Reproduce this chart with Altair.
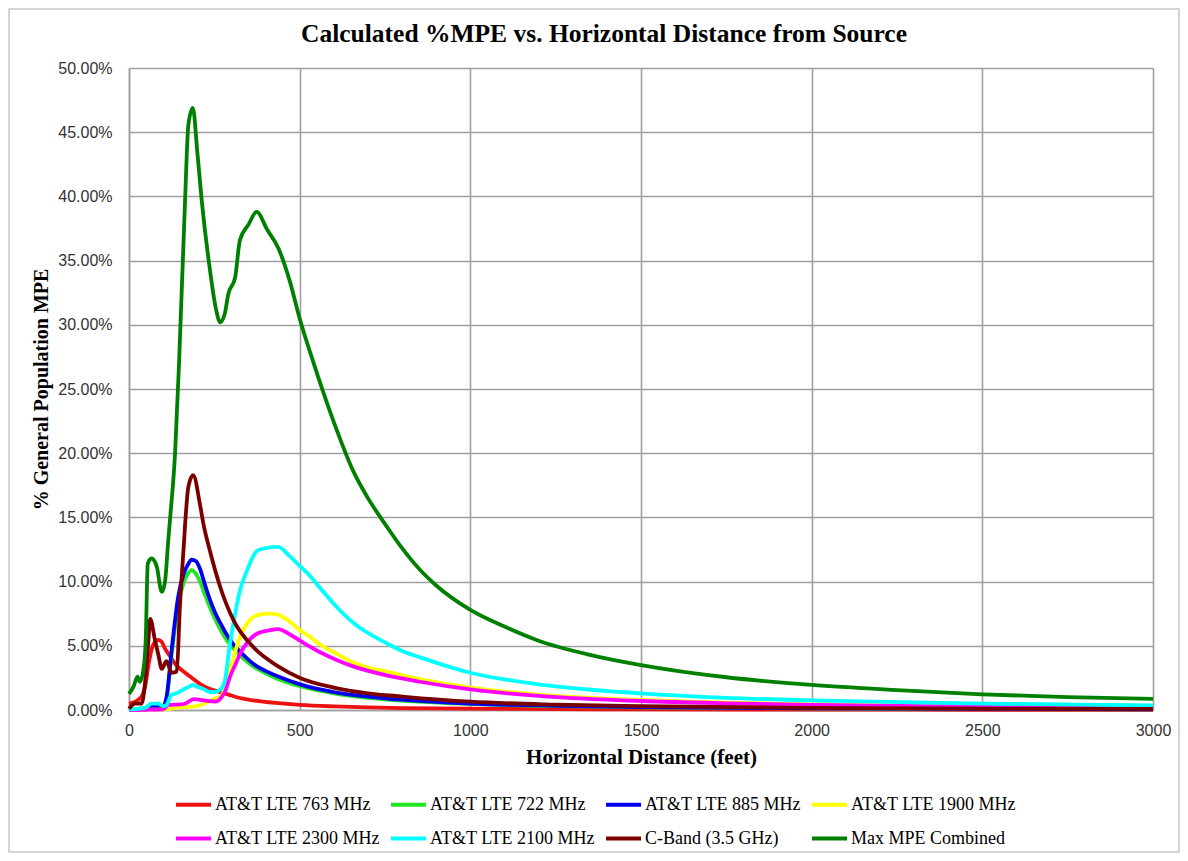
import altair as alt
import pandas as pd

# ---- data (x in feet, y in % of MPE) ----
series_names = [
    "AT&T LTE 763 MHz", "AT&T LTE 722 MHz", "AT&T LTE 885 MHz", "AT&T LTE 1900 MHz",
    "AT&T LTE 2300 MHz", "AT&T LTE 2100 MHz", "C-Band (3.5 GHz)", "Max MPE Combined",
]
series_colors = ["#ee1111", "#22e622", "#0000ee", "#ffff00",
                 "#ff00ff", "#00ffff", "#7a0000", "#008000"]

x_763 = [0, 15, 27, 40, 47, 57, 66, 76, 86, 96, 105, 120, 135, 160, 184, 210, 232, 260, 291, 330,
         364, 430, 501, 600, 700, 800, 1000, 1250, 1500, 2000, 2500, 3000]
y_763 = [0.5, 0.6, 0.8, 1.2, 1.8, 3.5, 4.7, 5.3, 5.45, 5.3, 4.8, 4.2, 3.6, 3.0, 2.5, 2.0, 1.7, 1.45,
         1.2, 0.9, 0.75, 0.55, 0.4, 0.28, 0.2, 0.15, 0.1, 0.07, 0.05, 0.03, 0.02, 0.01]

x_722 = [0, 30, 50, 66, 80, 100, 110, 125, 144, 160, 172, 184, 196, 208, 222, 237, 252, 267, 290,
         306, 335, 364, 400, 437, 501, 600, 700, 800, 1000, 1250, 1500, 2000, 2500, 3000]
y_722 = [0, 0.1, 0.2, 0.5, 0.3, 0.3, 0.9, 4.3, 8.2, 9.9, 10.6, 10.9, 10.6, 10.0, 9.0, 8.0, 7.1, 6.3,
         5.3, 4.8, 4.0, 3.4, 2.85, 2.4, 1.85, 1.3, 0.95, 0.73, 0.47, 0.3, 0.21, 0.12, 0.08, 0.05]

x_885 = [0, 30, 50, 66, 80, 100, 110, 125, 144, 160, 172, 184, 196, 208, 222, 237, 252, 267, 290,
         306, 335, 364, 400, 437, 501, 600, 700, 800, 1000, 1250, 1500, 2000, 2500, 3000]
y_885 = [0, 0.05, 0.1, 0.3, 0.3, 0.3, 1.0, 4.7, 8.8, 10.6, 11.3, 11.7, 11.6, 11.0, 9.8, 8.6, 7.6,
         6.8, 5.7, 5.1, 4.3, 3.6, 3.05, 2.6, 2.0, 1.4, 1.05, 0.8, 0.5, 0.33, 0.23, 0.13, 0.09, 0.06]

x_1900 = [0, 50, 100, 150, 198, 230, 252, 267, 280, 290, 303, 315, 330, 354, 384, 410, 433, 470,
          501, 530, 560, 600, 657, 700, 755, 800, 853, 1000, 1200, 1500, 1750, 2000, 2500, 3000]
y_1900 = [0, 0.02, 0.05, 0.2, 0.3, 0.6, 0.9, 1.0, 1.6, 2.5, 3.7, 4.9, 6.0, 7.0, 7.45, 7.5, 7.45,
          6.9, 6.2, 5.7, 5.1, 4.5, 3.7, 3.3, 3.0, 2.7, 2.4, 1.75, 1.2, 0.78, 0.58, 0.44, 0.28, 0.2]

x_2300 = [0, 50, 100, 115, 160, 190, 220, 255, 268, 281, 296, 311, 328, 345, 379, 410, 437, 470,
          501, 560, 600, 657, 755, 853, 1000, 1200, 1500, 1750, 2000, 2500, 3000]
y_2300 = [0, 0.02, 0.05, 0.4, 0.45, 0.85, 0.75, 0.65, 0.9, 1.4, 2.6, 3.5, 4.5, 5.2, 6.0, 6.2, 6.3,
          5.9, 5.4, 4.5, 4.0, 3.4, 2.7, 2.2, 1.6, 1.1, 0.7, 0.52, 0.4, 0.26, 0.18]

x_2100 = [0, 30, 50, 66, 86, 100, 110, 125, 140, 159, 175, 188, 200, 213, 237, 252, 268, 281, 295,
          311, 325, 345, 375, 400, 437, 470, 501, 535, 560, 599, 657, 700, 755, 800, 853, 1000,
          1200, 1500, 1750, 2000, 2500, 3000]
y_2100 = [0.05, 0.1, 0.2, 0.5, 0.5, 0.3, 0.4, 1.2, 1.3, 1.6, 1.8, 1.95, 1.8, 1.7, 1.4, 1.4, 1.6,
          2.3, 5.0, 7.5, 9.3, 10.8, 12.4, 12.6, 12.7, 12.0, 11.2, 10.3, 9.5, 8.3, 6.8, 6.0, 5.2,
          4.6, 4.1, 2.9, 2.0, 1.3, 0.95, 0.75, 0.5, 0.35]

x_cband = [0, 18, 37, 47, 57, 62, 76, 86, 96, 110, 125, 140, 149, 159, 174, 188, 208, 218, 237,
           267, 306, 364, 437, 501, 600, 700, 800, 1000, 1250, 1500, 2000, 2500, 3000]
y_cband = [0.1, 0.5, 0.5, 2.1, 5.45, 7.1, 5.45, 4.3, 3.2, 3.8, 2.9, 3.0, 8.0, 12.2, 17.4, 18.3,
           16.0, 14.5, 12.4, 9.6, 7.0, 4.9, 3.4, 2.5, 1.75, 1.3, 1.05, 0.65, 0.42, 0.3, 0.17, 0.11,
           0.08]

x_max = [0, 13, 25, 32, 42, 49, 55, 66, 81, 96, 105, 115, 120, 135, 147, 164, 174, 187, 200, 213,
         237, 255, 267, 280, 291, 311, 325, 350, 374, 405, 437, 470, 501, 535, 599, 657, 700, 755,
         800, 853, 900, 1000, 1100, 1200, 1350, 1500, 1750, 2000, 2250, 2500, 2750, 3000]
y_max = [1.25, 1.8, 2.6, 2.2, 3.1, 5.45, 11.4, 11.8, 11.2, 9.2, 9.9, 13.2, 14.8, 20.0, 27.3, 39.5,
         45.6, 46.9, 43.5, 39.7, 34.3, 31.2, 30.2, 30.8, 32.4, 33.7, 36.6, 37.8, 38.8, 37.4, 36.0,
         33.5, 30.4, 27.5, 22.5, 18.6, 16.5, 14.3, 12.6, 10.9, 9.7, 7.8, 6.5, 5.4, 4.3, 3.5, 2.55,
         1.95, 1.55, 1.22, 1.0, 0.86]

x_ticks = [0, 500, 1000, 1500, 2000, 2500, 3000]
y_ticks = [0, 5, 10, 15, 20, 25, 30, 35, 40, 45, 50]

all_x = [x_763, x_722, x_885, x_1900, x_2300, x_2100, x_cband, x_max]
all_y = [y_763, y_722, y_885, y_1900, y_2300, y_2100, y_cband, y_max]

rows = []
for order, (name, xs, ys) in enumerate(zip(series_names, all_x, all_y)):
    for xv, yv in zip(xs, ys):
        rows.append({"series": name, "order": order, "dist": xv, "mpe": yv})
df = pd.DataFrame(rows)

grid_col = "#a0a0a0"
serif = "Liberation Serif"

lines = alt.Chart(df).mark_line(strokeWidth=3.8, interpolate="monotone").encode(
    x=alt.X("dist:Q", title="Horizontal Distance (feet)",
            scale=alt.Scale(domain=[0, 3000], nice=False),
            axis=alt.Axis(values=x_ticks, format="d", labelFontSize=16, labelPadding=12,
                          labelFlush=False,
                          titlePadding=8, titleFontSize=21, titleFont=serif,
                          titleFontWeight="bold", titleColor="#000000")),
    y=alt.Y("mpe:Q", title="% General Population MPE",
            scale=alt.Scale(domain=[0, 50], nice=False),
            axis=alt.Axis(values=y_ticks, labelExpr="format(datum.value, '.2f') + '%'",
                          labelFontSize=16, labelPadding=17, titlePadding=6, titleFontSize=20,
                          labelFlush=False,
                          titleFont=serif, titleFontWeight="bold", titleColor="#000000")),
    color=alt.Color("series:N", sort=series_names,
                    scale=alt.Scale(domain=series_names, range=series_colors),
                    legend=alt.Legend(title=None, orient="none", legendX=45, legendY=717,
                                      direction="horizontal", columns=4, gridAlign="each",
                                      columnPadding=3, rowPadding=5,
                                      symbolType="stroke", symbolStrokeWidth=4, symbolSize=1225,
                                      labelFont=serif, labelFontSize=18,
                                      labelColor="#000000", labelOffset=2, labelLimit=300)),
    order=alt.Order("order:Q"),
    detail="series:N",
)

border = alt.Chart(pd.DataFrame({"k": [0]})).mark_rect(
    fill=None, stroke="#c8c8c8", strokeWidth=1.5
).encode(
    x=alt.value(-120), x2=alt.value(1050), y=alt.value(-59), y2=alt.value(784)
)

chart = alt.layer(border, lines).properties(
    width=1024, height=642,
    title=alt.TitleParams("Calculated %MPE vs. Horizontal Distance from Source",
                          font=serif, fontSize=25.5, fontWeight="bold", frame="group",
                          anchor="middle", dx=-37, dy=59, offset=20, color="#000000"),
    autosize=alt.AutoSizeParams(type="none"),
    padding={"left": 121, "top": 60, "right": 27, "bottom": 143},
    background="white",
).configure_axis(
    gridColor=grid_col, gridWidth=1.6, domainColor=grid_col, domainWidth=1.6,
    ticks=False, labelFont="Liberation Sans", labelColor="#333333",
).configure_view(stroke=None)

chart.save("out.html", embed_options={"renderer": "svg", "actions": False})
